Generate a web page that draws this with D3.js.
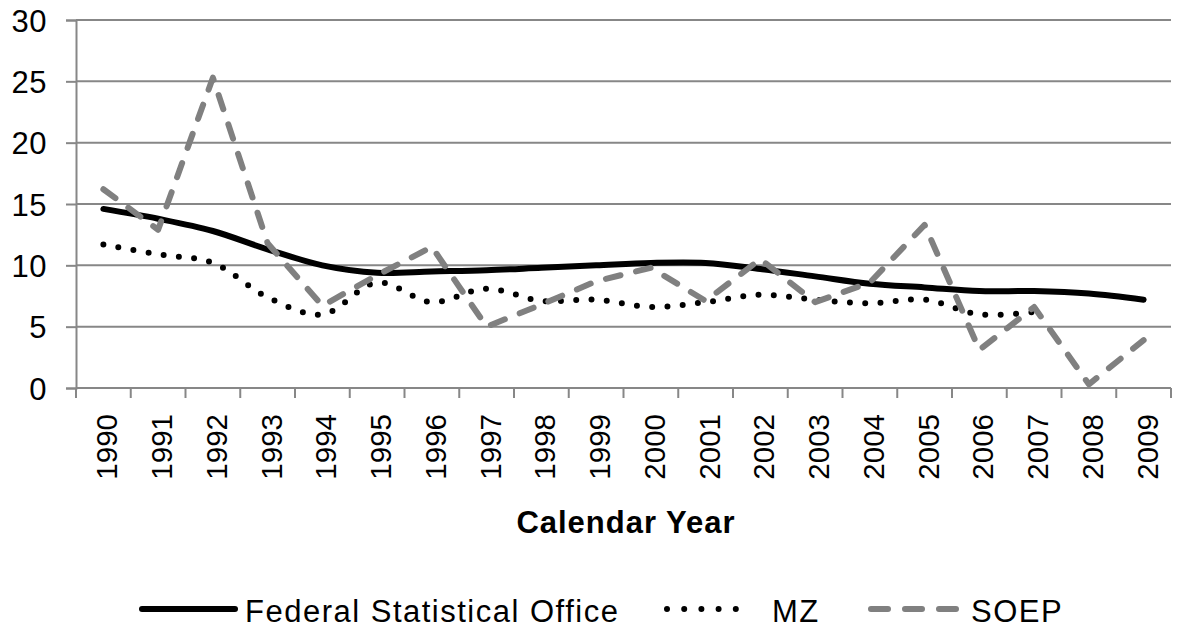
<!DOCTYPE html>
<html>
<head>
<meta charset="utf-8">
<script src="https://cdn.jsdelivr.net/npm/d3@7"></script>
<style>
  body { margin: 0; background: #fff; }
  svg { display: block; font-family: "Liberation Sans", Arial, sans-serif; }
</style>
</head>
<body>
<div id="chart"></div>
<script>
"use strict";
// valeurs
const years = ["1990","1991","1992","1993","1994","1995","1996","1997","1998","1999",
               "2000","2001","2002","2003","2004","2005","2006","2007","2008","2009"];
const fso  = [14.6,13.8,12.8,11.3,10.0,9.4,9.5,9.6,9.8,10.0,10.2,10.2,9.7,9.1,8.5,8.2,7.9,7.9,7.7,7.2];
const mz   = [11.7,10.9,10.2,7.4,6.0,8.6,7.0,8.1,7.1,7.2,6.6,7.0,7.6,7.2,6.9,7.2,6.0,6.2,null,null];
const soep = [16.2,12.9,25.3,11.8,6.7,9.2,11.5,5.0,6.8,8.7,9.8,7.1,10.5,7.0,8.6,13.3,3.1,6.6,0.3,3.9];
const yTicks = [0,5,10,15,20,25,30];
const seriesNames = ["Federal Statistical Office","MZ","SOEP"];

const W = 1184, H = 631,
  mLeft = 76, mRight = 1171, mTop = 20, mBottom = 388,
  grey = "#878787";

const svg = d3.select("#chart").append("svg").attr("width", W).attr("height", H);

const x = d3.scaleBand().domain(years).range([mLeft, mRight]).padding(0);
const y = d3.scaleLinear().domain([0, 30]).range([mBottom, mTop]);
const cx = d => x(d) + x.bandwidth() / 2;

// grille horizontale
svg.append("g").selectAll("line").data(yTicks.filter(t => t > 0)).enter().append("line")
  .attr("x1", mLeft).attr("x2", mRight)
  .attr("y1", d => y(d)).attr("y2", d => y(d))
  .attr("stroke", grey).attr("stroke-width", 2);

// axe Y
const gy = svg.append("g").attr("transform", `translate(${mLeft},0)`)
  .call(d3.axisLeft(y).tickValues(yTicks).tickSize(10).tickPadding(0).tickFormat(d3.format("d")));
gy.select(".domain").attr("stroke", grey).attr("stroke-width", 2);
gy.selectAll(".tick line").attr("stroke", grey).attr("stroke-width", 2);
gy.selectAll(".tick text")
  .attr("x", -29).attr("dy", "0.36em")
  .attr("font-size", 31).attr("fill", "#000").attr("letter-spacing", 0.5)
  .attr("font-family", "Liberation Sans, Arial, sans-serif");

// axe X : ligne, graduations aux limites des catégories
svg.append("line").attr("x1", mLeft).attr("x2", mRight).attr("y1", mBottom).attr("y2", mBottom)
  .attr("stroke", grey).attr("stroke-width", 2);
svg.append("g").selectAll("line").data(years.map(d => x(d)).concat([mRight])).enter().append("line")
  .attr("x1", d => d).attr("x2", d => d).attr("y1", mBottom).attr("y2", mBottom + 10)
  .attr("stroke", grey).attr("stroke-width", 2);

svg.append("g").selectAll("text").data(years).enter().append("text")
  .attr("transform", d => `translate(${cx(d) + 14},414) rotate(-90)`)
  .attr("text-anchor", "end")
  .attr("font-size", 29.5).attr("fill", "#000")
  .text(d => d);

svg.append("text").attr("x", 626).attr("y", 533).attr("text-anchor", "middle")
  .attr("font-size", 31).attr("font-weight", "bold").attr("letter-spacing", 1)
  .text("Calendar Year");

// séries
const lineSmooth = d3.line().defined(d => d[1] != null)
  .x(d => cx(d[0])).y(d => y(d[1])).curve(d3.curveCatmullRom);
const lineStraight = d3.line().defined(d => d[1] != null)
  .x(d => cx(d[0])).y(d => y(d[1]));
const pts = arr => years.map((yr, i) => [yr, arr[i]]);

const styles = [
  {stroke: "#000", width: 6, dash: null},
  {stroke: "#000", width: 6, dash: "0,15.3"},
  {stroke: "#808080", width: 6, dash: "15,16"}
];

svg.append("path").attr("d", lineSmooth(pts(fso)))
  .attr("fill", "none").attr("stroke", styles[0].stroke).attr("stroke-width", styles[0].width)
  .attr("stroke-linecap", "round").attr("stroke-linejoin", "round");
svg.append("path").attr("d", lineSmooth(pts(mz)))
  .attr("fill", "none").attr("stroke", styles[1].stroke).attr("stroke-width", styles[1].width)
  .attr("stroke-dasharray", styles[1].dash).attr("stroke-linecap", "round");
svg.append("path").attr("d", lineStraight(pts(soep)))
  .attr("fill", "none").attr("stroke", styles[2].stroke).attr("stroke-width", styles[2].width)
  .attr("stroke-dasharray", styles[2].dash).attr("stroke-linecap", "round").attr("stroke-linejoin", "round");

// légende
const legend = [
  {x1: 142, x2: 235, tx: 245, dash: null},
  {x1: 667, x2: 753, tx: 772, dash: "0,17.2"},
  {x1: 871, x2: 956, tx: 971, dash: "17,17"}
];
const gl = svg.append("g");
legend.forEach((l, i) => {
  gl.append("line").attr("x1", l.x1).attr("x2", l.x2).attr("y1", 609).attr("y2", 609)
    .attr("stroke", styles[i].stroke).attr("stroke-width", styles[i].width)
    .attr("stroke-linecap", "round").attr("stroke-dasharray", l.dash);
  gl.append("text").attr("x", l.tx).attr("y", 622)
    .attr("font-size", 31).attr("letter-spacing", 1.5).attr("fill", "#000")
    .text(seriesNames[i]);
});
</script>
</body>
</html>
